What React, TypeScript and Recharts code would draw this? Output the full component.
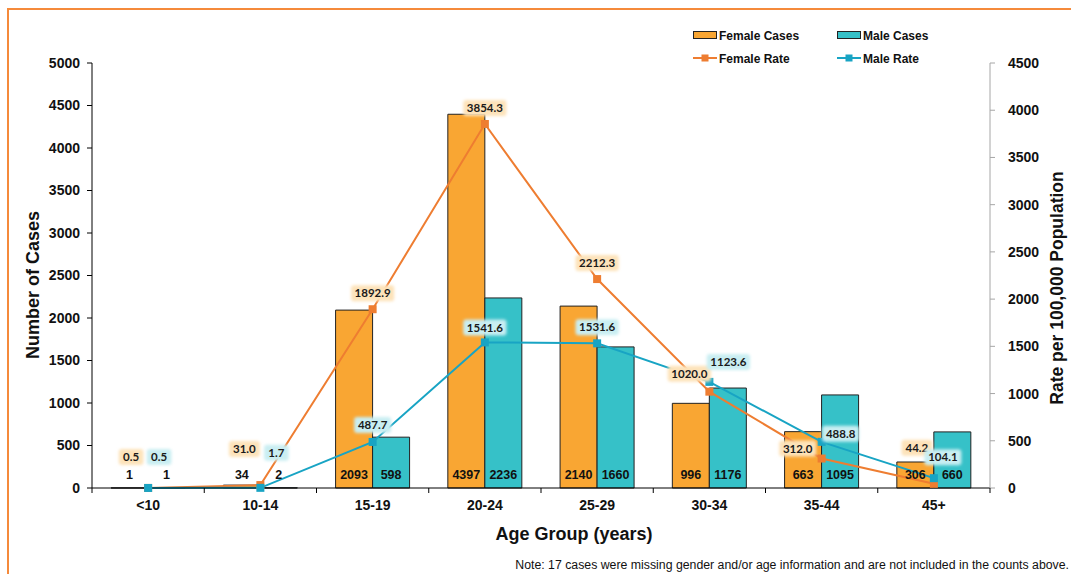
import { ComposedChart, Bar, Line, XAxis, YAxis, LabelList, Label } from 'recharts';

const ageGroups = ['<10', '10-14', '15-19', '20-24', '25-29', '30-34', '35-44', '45+'];
const femaleCases = [1, 34, 2093, 4397, 2140, 996, 663, 306];
const maleCases = [1, 2, 598, 2236, 1660, 1176, 1095, 660];
const femaleRate = [0.5, 31.0, 1892.9, 3854.3, 2212.3, 1020.0, 312.0, 44.2];
const maleRate = [0.5, 1.7, 487.7, 1541.6, 1531.6, 1123.6, 488.8, 104.1];

const caseTicks = [0, 500, 1000, 1500, 2000, 2500, 3000, 3500, 4000, 4500, 5000];
const rateTicks = [0, 500, 1000, 1500, 2000, 2500, 3000, 3500, 4000, 4500];

// where each rate label sits relative to its marker, [dx, dy]
const femaleNudge = [[-17, -31], [-16, -36], [0, -16], [0, -16], [0, -16], [-20, -18], [-24, -10], [-17, -36]];
const maleNudge = [[11, -31], [16, -35], [0, -17], [0, -15], [0, -16], [19, -20], [19, -8], [9, -21]];

const data = ageGroups.map((age, i) => ({
  age,
  femaleCases: femaleCases[i],
  maleCases: maleCases[i],
  femaleRate: femaleRate[i],
  maleRate: maleRate[i],
}));

const COLORS = {
  femaleBar: '#F9A633',
  maleBar: '#36C1C8',
  femaleLine: '#EE7D31',
  maleLine: '#18A4C4',
  femaleGlow: '#FDE3BA',
  maleGlow: '#C9EEF2',
  frame: '#F58A3B',
};

const SANS = '"Liberation Sans", Arial, Helvetica, sans-serif';
const LABEL_FONT = 'Lato, "Open Sans", sans-serif';

const W = 1061;
const H = 564;
const MARGIN = { top: 53, right: 0, bottom: 56, left: 0 };
const LEFT_AXIS_W = 82;
const RIGHT_AXIS_W = 81;
const PLOT_W = W - LEFT_AXIS_W - RIGHT_AXIS_W;
const BAND = PLOT_W / ageGroups.length;

const AgeTick = (props: any) => {
  const { x, y, payload, index } = props;
  const half = BAND / 2;
  return (
    <g>
      <line x1={x - half} x2={x - half} y1={y} y2={y + 5} stroke="#000" />
      {index === ageGroups.length - 1 && (
        <line x1={x + half} x2={x + half} y1={y} y2={y + 5} stroke="#000" />
      )}
      <text x={x} y={y + 22} textAnchor="middle" fontFamily={SANS} fontWeight="bold" fontSize={14} fill="#111">
        {payload.value}
      </text>
    </g>
  );
};

const CountLabel = (props: any) => {
  const { x, y, width, height, value } = props;
  return (
    <text
      x={x + width / 2}
      y={y + height - 9}
      textAnchor="middle"
      fontFamily={SANS}
      fontWeight="bold"
      fontSize={12.5}
      fill="#111"
    >
      {value}
    </text>
  );
};

const makeRateLabel = (nudge: number[][], glow: string, key: string) => (props: any) => {
  const { x, y, value, index } = props;
  const [dx, dy] = nudge[index];
  const text = Number(value).toFixed(1);
  const w = text.length * 6.2 + 6;
  const cx = x + dx;
  const cy = y + dy;
  const id = `glow-${key}-${index}`;
  return (
    <g>
      <defs>
        <filter id={id} x="-30%" y="-50%" width="160%" height="200%">
          <feGaussianBlur stdDeviation="1.6" />
        </filter>
      </defs>
      <rect x={cx - w / 2} y={cy - 8} width={w} height={16} rx={3} fill={glow} filter={`url(#${id})`} />
      <text
        x={cx}
        y={cy}
        dy="0.36em"
        textAnchor="middle"
        fontFamily={LABEL_FONT}
        fontWeight="bold"
        fontSize={11.5}
        fill="#1a1a1a"
      >
        {text}
      </text>
    </g>
  );
};

const FemaleRateLabel = makeRateLabel(femaleNudge, COLORS.femaleGlow, 'f');
const MaleRateLabel = makeRateLabel(maleNudge, COLORS.maleGlow, 'm');

const squareDot = (color: string) => (p: any) => (
  <rect key={`dot-${p.index}`} x={p.cx - 4} y={p.cy - 4} width={8} height={8} fill={color} />
);

const Legendry = () => (
  <svg width={330} height={70} style={{ position: 'absolute', left: 685, top: 10 }}>
    <g fontFamily={SANS} fontWeight="bold" fontSize={12} fill="#111">
      <rect x={8.5} y={21.5} width={23} height={7} fill={COLORS.femaleBar} stroke="#222" />
      <text x={34} y={29.5}>Female Cases</text>
      <rect x={152.5} y={21.5} width={23} height={7} fill={COLORS.maleBar} stroke="#222" />
      <text x={178} y={29.5}>Male Cases</text>
      <line x1={8} x2={32} y1={48} y2={48} stroke={COLORS.femaleLine} strokeWidth={2} />
      <rect x={16.5} y={44.5} width={7} height={7} fill={COLORS.femaleLine} />
      <text x={34} y={52.5}>Female Rate</text>
      <line x1={152} x2={176} y1={48} y2={48} stroke={COLORS.maleLine} strokeWidth={2} />
      <rect x={160.5} y={44.5} width={7} height={7} fill={COLORS.maleLine} />
      <text x={178} y={52.5}>Male Rate</text>
    </g>
  </svg>
);

const App = () => (
  <div
    style={{
      position: 'absolute',
      left: 0,
      top: 0,
      width: 1071,
      height: 574,
      overflow: 'hidden',
      fontFamily: SANS,
      background: '#fff',
    }}
  >
    <div
      style={{
        position: 'absolute',
        left: 7,
        top: 8,
        width: 1064,
        height: 566,
        boxSizing: 'border-box',
        borderTop: `2px solid ${COLORS.frame}`,
        borderLeft: `2px solid ${COLORS.frame}`,
      }}
    />
    <div style={{ position: 'absolute', left: 10, top: 10 }}>
      <ComposedChart width={W} height={H} data={data} margin={MARGIN} barCategoryGap="17%" barGap={0}>
        <XAxis
          dataKey="age"
          height={30}
          axisLine={{ stroke: '#000' }}
          tickLine={false}
          tickSize={0}
          tickMargin={0}
          tick={<AgeTick />}
          interval={0}
        >
          <Label
            content={() => (
              <g fontFamily={SANS} fill="#111">
                <text x={564} y={530} textAnchor="middle" fontWeight="bold" fontSize={18}>
                  Age Group (years)
                </text>
                <text x={1059} y={559} textAnchor="end" fontSize={12.3}>
                  Note: 17 cases were missing gender and/or age information and are not included in the counts above.
                </text>
              </g>
            )}
          />
        </XAxis>
        <YAxis
          yAxisId="cases"
          width={LEFT_AXIS_W}
          domain={[0, 5000]}
          ticks={caseTicks}
          interval={0}
          axisLine={{ stroke: '#000' }}
          tickLine={{ stroke: '#000' }}
          tickSize={5}
          tickMargin={7}
          tick={{ fill: '#111', fontSize: 14, fontWeight: 'bold', fontFamily: SANS }}
        >
          <Label
            content={() => (
              <text
                x={23}
                y={275}
                transform="rotate(-90 23 275)"
                dy="0.35em"
                textAnchor="middle"
                fontFamily={SANS}
                fontWeight="bold"
                fontSize={18}
                fill="#111"
              >
                Number of Cases
              </text>
            )}
          />
        </YAxis>
        <YAxis
          yAxisId="rate"
          orientation="right"
          width={RIGHT_AXIS_W}
          domain={[0, 4500]}
          ticks={rateTicks}
          interval={0}
          axisLine={{ stroke: '#A6A6A6' }}
          tickLine={{ stroke: '#A6A6A6' }}
          tickSize={5}
          tickMargin={13}
          tick={{ fill: '#111', fontSize: 14, fontWeight: 'bold', fontFamily: SANS }}
        >
          <Label
            content={() => (
              <text
                x={1047}
                y={278}
                transform="rotate(-90 1047 278)"
                dy="0.35em"
                textAnchor="middle"
                fontFamily={SANS}
                fontWeight="bold"
                fontSize={17.5}
                fill="#111"
              >
                Rate per 100,000 Population
              </text>
            )}
          />
        </YAxis>

        <Bar yAxisId="cases" dataKey="femaleCases" fill={COLORS.femaleBar} stroke="#222" strokeWidth={1} isAnimationActive={false}>
          <LabelList dataKey="femaleCases" content={<CountLabel />} />
        </Bar>
        <Bar yAxisId="cases" dataKey="maleCases" fill={COLORS.maleBar} stroke="#222" strokeWidth={1} isAnimationActive={false}>
          <LabelList dataKey="maleCases" content={<CountLabel />} />
        </Bar>

        <Line
          yAxisId="rate"
          type="linear"
          dataKey="femaleRate"
          stroke={COLORS.femaleLine}
          strokeWidth={2}
          dot={squareDot(COLORS.femaleLine)}
          activeDot={false}
          isAnimationActive={false}
        >
          <LabelList dataKey="femaleRate" content={<FemaleRateLabel />} />
        </Line>
        <Line
          yAxisId="rate"
          type="linear"
          dataKey="maleRate"
          stroke={COLORS.maleLine}
          strokeWidth={2}
          dot={squareDot(COLORS.maleLine)}
          activeDot={false}
          isAnimationActive={false}
        >
          <LabelList dataKey="maleRate" content={<MaleRateLabel />} />
        </Line>
      </ComposedChart>
    </div>
    <Legendry />
  </div>
);

export default App;
